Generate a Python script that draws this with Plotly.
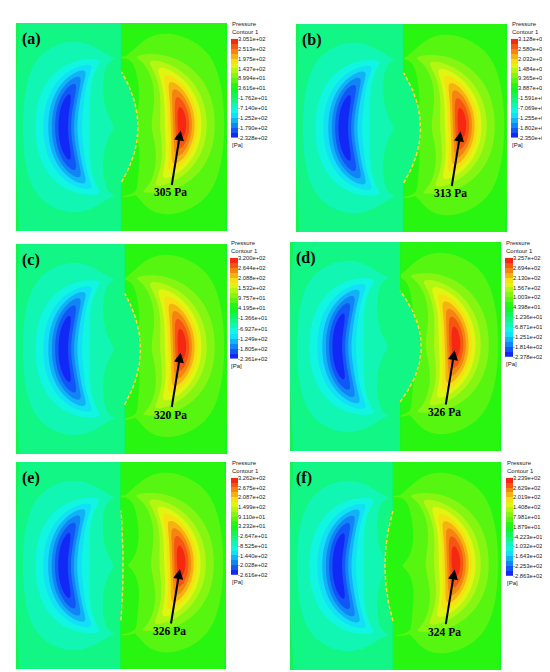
from __future__ import annotations

import numpy as np
import plotly.graph_objects as go

W, H = 550, 672

panel_names = ["(a)", "(b)", "(c)", "(d)", "(e)", "(f)"]
peak_labels = ["305 Pa", "313 Pa", "320 Pa", "326 Pa", "326 Pa", "324 Pa"]

# legend labels, top (max) to bottom (min), as printed in each panel
legend_ticks = [
    ["3.051e+02", "2.513e+02", "1.975e+02", "1.437e+02", "8.994e+01", "3.616e+01",
     "-1.762e+01", "-7.140e+01", "-1.252e+02", "-1.790e+02", "-2.328e+02"],
    ["3.128e+02", "2.580e+02", "2.032e+02", "1.484e+02", "9.365e+01", "3.887e+01",
     "-1.591e+01", "-7.069e+01", "-1.255e+02", "-1.802e+02", "-2.350e+02"],
    ["3.200e+02", "2.644e+02", "2.088e+02", "1.532e+02", "9.757e+01", "4.195e+01",
     "-1.366e+01", "-6.927e+01", "-1.249e+02", "-1.805e+02", "-2.361e+02"],
    ["3.257e+02", "2.694e+02", "2.130e+02", "1.567e+02", "1.003e+02", "4.398e+01",
     "-1.236e+01", "-6.871e+01", "-1.251e+02", "-1.814e+02", "-2.378e+02"],
    ["3.262e+02", "2.675e+02", "2.087e+02", "1.499e+02", "9.110e+01", "3.232e+01",
     "-2.647e+01", "-8.525e+01", "-1.440e+02", "-2.028e+02", "-2.616e+02"],
    ["3.239e+02", "2.629e+02", "2.019e+02", "1.408e+02", "7.981e+01", "1.879e+01",
     "-4.223e+01", "-1.032e+02", "-1.643e+02", "-2.253e+02", "-2.863e+02"],
]

# dashed interface: tip position and how far its middle bows (panel fractions)
interface_tip = [0.50, 0.51, 0.515, 0.522, 0.50, 0.488]
interface_bulge = [0.078, 0.08, 0.075, 0.10, 0.01, -0.038]

# panel and legend boxes in pixels: (left, top, right, bottom)
panel_px = [(8, 12, 219, 222), (288, 13, 499, 223), (8, 235, 219, 447),
            (282, 233, 493, 444), (8, 455, 218, 664), (282, 455, 493, 665)]
legend_px = [(223, 28, 230, 128), (503, 28, 510, 128), (222, 249, 230, 351),
             (497, 249, 505, 349), (223, 471, 230, 569), (498, 471, 505, 570)]

N_BANDS = 20
SERIF = "Liberation Serif, Times New Roman, serif"
SANS = "Liberation Sans, Arial, sans-serif"


def rainbow(f: float) -> str:
    stops = [(0.0, (0, 0, 255)), (0.25, (0, 255, 255)), (0.5, (0, 255, 0)),
             (0.75, (255, 255, 0)), (1.0, (255, 0, 0))]
    for (f0, c0), (f1, c1) in zip(stops[:-1], stops[1:]):
        if f <= f1:
            t = (f - f0) / (f1 - f0)
            # slightly muted, like the exported bitmap
            rgb = [round(0.9 * (a + (b - a) * t) + 0.1 * 170) for a, b in zip(c0, c1)]
            return "rgb({},{},{})".format(*rgb)
    return "rgb(246,17,17)"


band_colors = [rainbow((k + 0.5) / N_BANDS) for k in range(N_BANDS)]
# contour fill samples the scale at k/(N-1) for band k
colorscale = [[k / (N_BANDS - 1), c] for k, c in enumerate(band_colors)]


def ring(d, wi, wo):
    w = np.where(d < 0, wi, wo)
    return (1.0 + (d / w) ** 2) ** -1.5


def crescent(r, r_in, th, t0, wi, wo, th_w, q):
    # hugs the central lens and thins out towards the tips
    s = np.clip(1.0 - (np.abs(th) / 85.0) ** 3, 0.05, 1.0)
    d = r - (r_in + t0 * (0.35 + 0.65 * s))
    return ring(d, wi * s, wo * s) * np.exp(-(np.abs(th) / th_w) ** q), d


def pressure_field(uu, vv, lo, hi, tip, bulge):
    bw = (hi - lo) / N_BANDS
    cx, cy = 0.505, 0.5
    a, b = 0.165, 0.29          # half width / half height of the central lens
    dx, dy = uu - cx, vv - cy
    r = np.hypot(dx, dy) + 1e-9
    r_in = 1.0 / np.sqrt((dx / r / a) ** 2 + (dy / r / b) ** 2)
    th_l = np.degrees(np.arctan2(dy, -dx))
    th_r = np.degrees(np.arctan2(dy, dx))

    bg_l = lo + 7.5 * bw
    bg_r = lo + 10.5 * bw

    core_l, d_l = crescent(r, r_in, th_l, 0.115, 0.077, 0.084, 60.0, 3.5)
    halo_l = np.exp(-(d_l / 0.26) ** 2) * np.exp(-(np.abs(th_l) / 85.0) ** 4)
    left = bg_l + (lo + 0.3 * bw - bg_l) * (0.9 * core_l + 0.1 * halo_l)
    left += 1.0 * bw * np.exp(-uu / 0.03)

    core_r, d_r = crescent(r, r_in, th_r - 4.0, 0.115, 0.075, 0.09, 52.0, 2.0)
    halo_r = np.exp(-(d_r / 0.24) ** 2) * np.exp(-(np.abs(th_r) / 85.0) ** 4)
    right = bg_r + (hi - 0.3 * bw - bg_r) * (0.9 * core_r + 0.1 * halo_r)
    right -= 0.8 * bw * np.exp(-(1.0 - uu) / 0.03)

    x_int = interface_curve(vv, tip, bulge)
    return np.where(uu < x_int, left, right)


def interface_curve(v, tip, bulge, half=0.265):
    return tip + bulge * np.clip(1.0 - ((v - 0.5) / half) ** 2, 0.0, None)


def to_domain(box):
    l, t, r, b = box
    return [l / W, r / W], [1 - b / H, 1 - t / H]


grid = np.linspace(0.0, 1.0, 281)
uu, vv = np.meshgrid(grid, grid)

fig = go.Figure()
annotations = []
layout_axes = {}

for i in range(6):
    n_main, n_leg = i + 1, i + 7
    xm = "x" if n_main == 1 else f"x{n_main}"
    ym = "y" if n_main == 1 else f"y{n_main}"
    xl, yl = f"x{n_leg}", f"y{n_leg}"

    tickvals = [float(s) for s in legend_ticks[i]]
    hi, lo = tickvals[0], tickvals[-1]
    bw = (hi - lo) / N_BANDS

    z = pressure_field(uu, vv, lo, hi, interface_tip[i], interface_bulge[i])
    fig.add_trace(go.Contour(
        x=grid, y=grid, z=z, xaxis=xm, yaxis=ym,
        autocontour=False,
        contours=dict(start=lo + bw, end=hi - bw, size=bw, coloring="fill", showlines=False),
        line=dict(width=0),
        colorscale=colorscale, showscale=False, hoverinfo="skip",
    ))

    v_line = np.linspace(0.5 - 0.265, 0.5 + 0.265, 60)
    fig.add_trace(go.Scatter(
        x=interface_curve(v_line, interface_tip[i], interface_bulge[i]), y=v_line,
        xaxis=xm, yaxis=ym, mode="lines",
        line=dict(color="#ffd92f", width=1.5, dash="4px,2px"),
        hoverinfo="skip", showlegend=False,
    ))

    # legend bar
    mids = [lo + (k + 0.5) * bw for k in range(N_BANDS)]
    fig.add_trace(go.Heatmap(
        x=[0], y=mids, z=[[k] for k in range(N_BANDS)], xaxis=xl, yaxis=yl,
        zmin=0, zmax=N_BANDS - 1, colorscale=colorscale, showscale=False,
        hoverinfo="skip",
    ))

    dx_, dy_ = to_domain(panel_px[i])
    key_x = "xaxis" if n_main == 1 else f"xaxis{n_main}"
    key_y = "yaxis" if n_main == 1 else f"yaxis{n_main}"
    layout_axes[key_x] = dict(domain=dx_, range=[0, 1], visible=False, anchor=ym, fixedrange=True)
    layout_axes[key_y] = dict(domain=dy_, range=[0, 1], visible=False, anchor=xm, fixedrange=True)

    lx_, ly_ = to_domain(legend_px[i])
    layout_axes[f"xaxis{n_leg}"] = dict(domain=lx_, range=[-0.5, 0.5], visible=False, anchor=yl)
    layout_axes[f"yaxis{n_leg}"] = dict(
        domain=ly_, range=[lo, hi], anchor=xl, side="right",
        tickvals=tickvals, ticktext=legend_ticks[i], ticks="", ticklen=0,
        ticklabelstandoff=-1,
        showgrid=False, zeroline=False, showline=False,
        tickfont=dict(family=SANS, size=5.8, color="#222222"),
    )

    annotations.append(dict(
        xref=f"{xm} domain", yref=f"{ym} domain", x=0.02, y=0.975,
        xanchor="left", yanchor="top", showarrow=False,
        text=f"<b>{panel_names[i]}</b>", font=dict(family=SERIF, size=16, color="black"),
    ))
    annotations.append(dict(
        xref=xm, yref=ym, x=0.78, y=0.483, ax=-10, ay=62,
        text=f"<b>{peak_labels[i]}</b>", font=dict(family=SERIF, size=11.5, color="black"),
        showarrow=True, arrowhead=2, arrowsize=1.0, arrowwidth=2, arrowcolor="black",
        standoff=0,
    ))
    annotations.append(dict(
        xref=f"{xl} domain", yref=f"{yl} domain", x=0, y=1, yshift=3,
        xanchor="left", yanchor="bottom", align="left", showarrow=False,
        text="Pressure<br>Contour 1", font=dict(family=SANS, size=6.0, color="#222222"),
        borderpad=0,
    ))
    annotations.append(dict(
        xref=f"{xl} domain", yref=f"{yl} domain", x=0, y=0, yshift=-3,
        xanchor="left", yanchor="top", showarrow=False,
        text="[Pa]", font=dict(family=SANS, size=6.0, color="#222222"),
        borderpad=0,
    ))

fig.update_layout(
    width=W, height=H, autosize=False,
    margin=dict(l=0, r=0, t=0, b=0),
    paper_bgcolor="white", plot_bgcolor="white",
    showlegend=False, annotations=annotations,
    **layout_axes,
)

fig.write_html("out.html", config={"displayModeBar": False})
